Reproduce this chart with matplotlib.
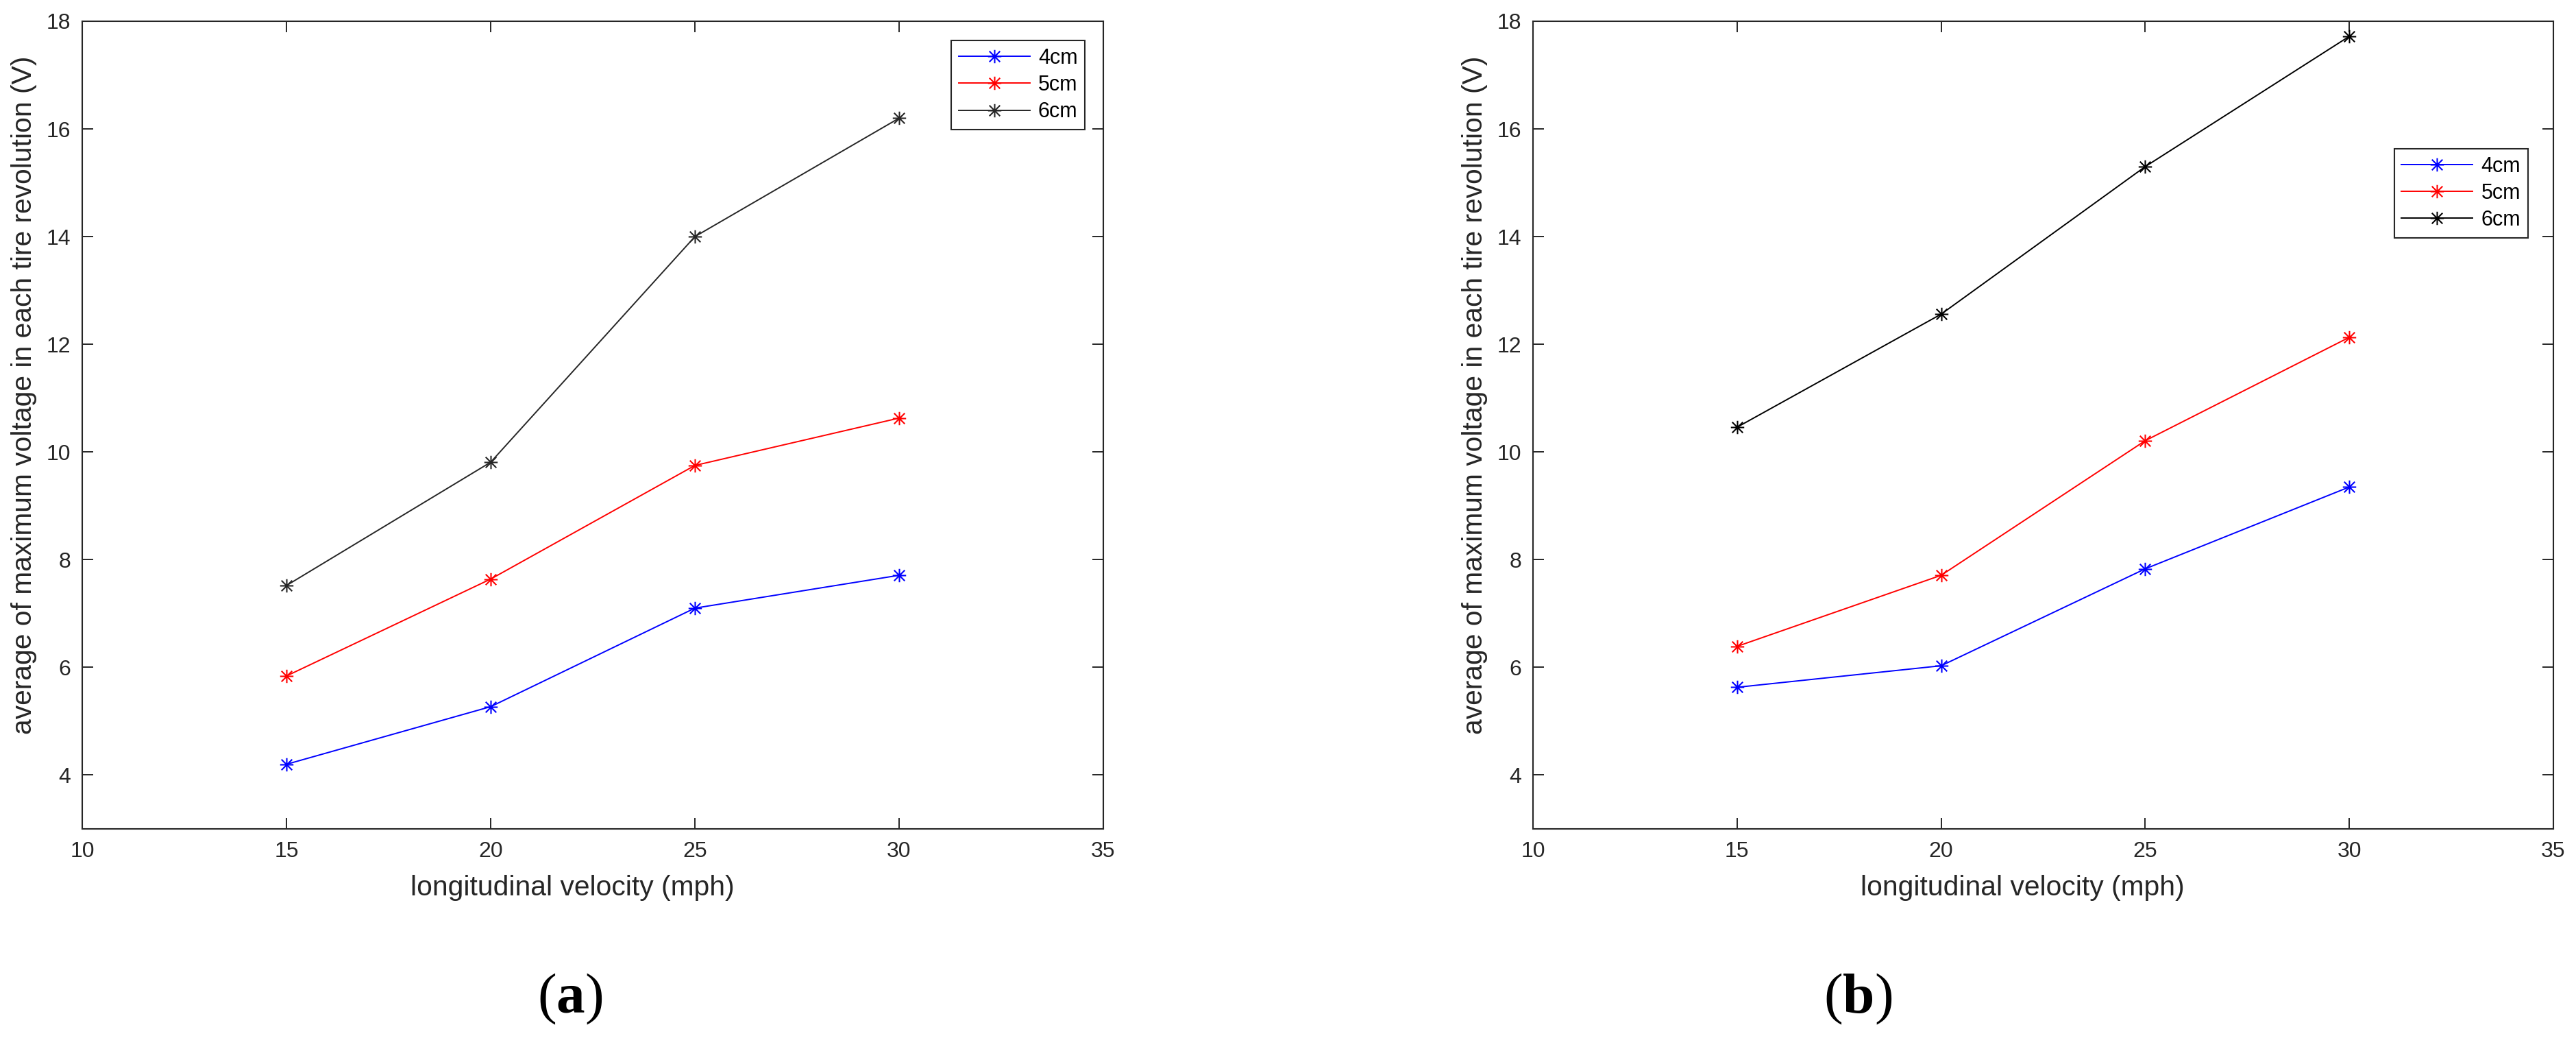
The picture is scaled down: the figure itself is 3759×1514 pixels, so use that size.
import matplotlib
matplotlib.use("Agg")
import matplotlib.pyplot as plt
from matplotlib.path import Path

# data
velocity = [15, 20, 25, 30]
series_names = ["4cm", "5cm", "6cm"]

# (a)
a_4cm = [4.20, 5.27, 7.10, 7.71]
a_5cm = [5.84, 7.64, 9.75, 10.63]
a_6cm = [7.52, 9.81, 14.00, 16.20]

# (b)
b_4cm = [5.63, 6.03, 7.83, 9.35]
b_5cm = [6.39, 7.71, 10.21, 12.13]
b_6cm = [10.46, 12.56, 15.30, 17.72]

xticks = [10, 15, 20, 25, 30, 35]
yticks = [4, 6, 8, 10, 12, 14, 16, 18]

plt.rcParams['font.family'] = ['Liberation Sans', 'DejaVu Sans']
plt.rcParams['mathtext.fontset'] = 'custom'
plt.rcParams['mathtext.rm'] = 'Liberation Serif'
plt.rcParams['mathtext.bf'] = 'Liberation Serif:bold'

# matlab style asterisk marker
M, L = Path.MOVETO, Path.LINETO
star = Path([(0, -1), (0, 1), (-1, 0), (1, 0),
             (-0.8, -0.8), (0.8, 0.8), (-0.8, 0.8), (0.8, -0.8)],
            [M, L, M, L, M, L, M, L])

spine_col = '#262626'

fig = plt.figure(figsize=(37.59, 15.14), dpi=100)


def draw(ax, ys, black, legend_anchor):
    cols = ['#0000ff', '#ff0000', black]
    for y, c, name in zip(ys, cols, series_names):
        ax.plot(velocity, y, color=c, lw=1.4, marker=star, ms=14,
                mec=c, mfc='none', mew=1.5, label=name)
    ax.set_xlim(10, 35)
    ax.set_ylim(3, 18)
    ax.set_xticks(xticks)
    ax.set_yticks(yticks)
    ax.tick_params(direction='in', length=11.5, width=1.4, labelsize=23,
                   top=True, right=True, colors=spine_col, labelcolor='#262626')
    ax.tick_params(axis='x', pad=13)
    ax.tick_params(axis='y', pad=12)
    for s in ax.spines.values():
        s.set_linewidth(1.5)
        s.set_color(spine_col)
    ax.set_xlabel("longitudinal velocity (mph)", fontsize=29.3, color='#262626')
    ax.set_ylabel("average of maximum voltage in each tire revolution (V)",
                  fontsize=29.3, color='#262626')
    ax.xaxis.set_label_coords(0.48, -0.057)
    ax.yaxis.set_label_coords(-0.044, 0.537)
    leg = ax.legend(loc='upper right', bbox_to_anchor=legend_anchor,
                    fontsize=22, fancybox=False, framealpha=1,
                    edgecolor=spine_col, handlelength=3.4, handletextpad=0.4,
                    labelspacing=0.3, borderpad=0.35, borderaxespad=0)
    leg.get_frame().set_linewidth(1.5)


ax1 = fig.add_axes([120 / 3759, 1 - 1209 / 1514, 1490 / 3759, 1178 / 1514])
draw(ax1, [a_4cm, a_5cm, a_6cm], '#262626', (0.982, 0.976))

ax2 = fig.add_axes([2237 / 3759, 1 - 1209 / 1514, 1489 / 3759, 1178 / 1514])
draw(ax2, [b_4cm, b_5cm, b_6cm], '#000000', (0.975, 0.842))

fig.text(832 / 3759, 1 - 1457 / 1514, r'$\mathrm{(}\mathbf{a}\mathrm{)}$',
         fontsize=60, ha='center', va='center')
fig.text(2711 / 3759, 1 - 1457 / 1514, r'$\mathrm{(}\mathbf{b}\mathrm{)}$',
         fontsize=60, ha='center', va='center')

fig.savefig("out.png", dpi=100, facecolor='white')
